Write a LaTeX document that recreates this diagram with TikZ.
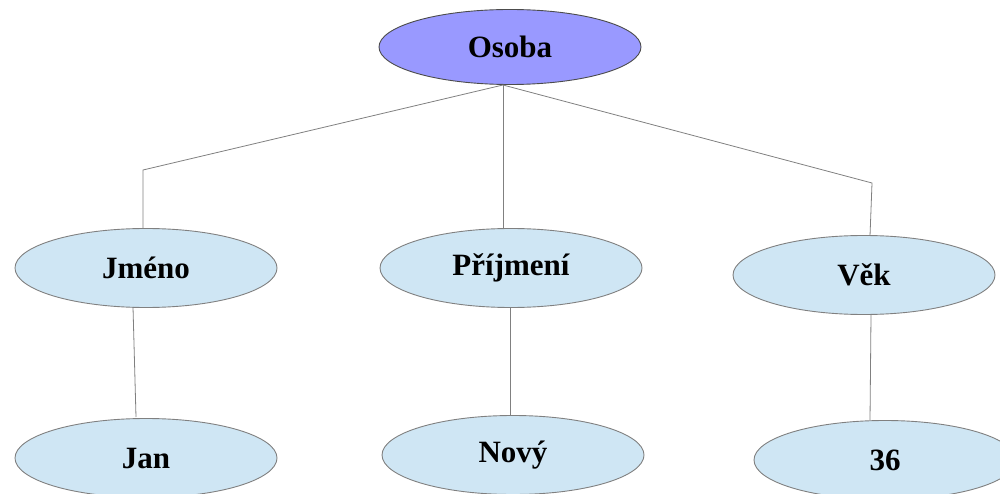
\documentclass[tikz,border=0pt]{standalone}
\usepackage{fontspec}
\setmainfont{Liberation Serif}
\usetikzlibrary{shapes.geometric}
\definecolor{topfill}{HTML}{9999FF}
\definecolor{leaffill}{HTML}{CFE6F4}
\definecolor{edgegray}{HTML}{808080}
\tikzset{
  x=1pt,y=1pt,
  attr/.style={ellipse, draw=edgegray, line width=0.9pt, fill=leaffill, minimum width=262pt, minimum height=79pt, inner sep=0pt, font=\fontsize{31}{34}\selectfont\bfseries},
  root/.style={attr, fill=topfill, draw=black!70, minimum height=75pt},
  conn/.style={draw=edgegray, line width=0.8pt}
}
\begin{document}
\begin{tikzpicture}
\useasboundingbox (0,0) rectangle (1000,493);
\node[root] (osoba) at (510,446) {Osoba};
\node[attr] (jmeno) at (146,225) {Jméno};
\node[attr] (prijmeni) at (511,225) {Příjmení};
\node[attr] (vek) at (864,218) {Věk};
\node[attr] (jan) at (146,35) {Jan};
\node[attr] (novy) at (513,38) {Nový};
\node[attr] (n36) at (885,33) {36};
\coordinate (hub) at (503,408);
\coordinate (cl) at (143,323);
\coordinate (cr) at (872,310);
\draw[conn] (hub) -- (cl) -- (cl |- jmeno.north);
\draw[conn] (hub) -- (hub |- prijmeni.north);
\draw[conn] (hub) -- (cr) -- (870,257);
\draw[conn] (133,186) -- (136,76);
\draw[conn] (510,186) -- (novy.north -| 510,0);
\draw[conn] (871,178) -- (870,73);
\end{tikzpicture}
\end{document}
